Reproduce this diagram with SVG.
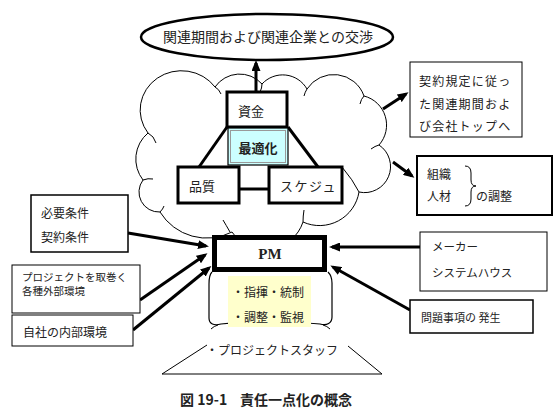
<svg xmlns="http://www.w3.org/2000/svg" width="560" height="414" viewBox="0 0 560 414">
<style>
text{font-family:"Noto Sans CJK JP","Noto Sans",sans-serif;fill:#222;}
.box{fill:#fff;stroke:#000;}
.arr{stroke:#000;stroke-width:3;fill:none;marker-end:url(#ah);}
.link{stroke:#000;stroke-width:3;fill:none;}
.thin{stroke:#000;stroke-width:1;fill:none;}
</style>
<defs>
<marker id="ah" markerWidth="11" markerHeight="9" refX="8" refY="4.5" orient="auto" markerUnits="userSpaceOnUse">
<path d="M0,0 L11,4.5 L0,9 z" fill="#000"/>
</marker>
</defs>
<rect width="560" height="414" fill="#fff"/>

<g id="negotiation">
<ellipse cx="267" cy="37" rx="126" ry="23" fill="#fff" stroke="#000" stroke-width="2.5"/>
<text x="268" y="42" font-size="14" text-anchor="middle">関連期間および関連企業との交渉</text>
</g>

<g id="cloud">
<path d="M160,212 A20 20 0 0 1 143,180 A34 34 0 0 1 148,133 A40 38 0 0 1 215,87 A30 30 0 0 1 262,84 A28 28 0 0 1 307,89 A32 32 0 0 1 364,96 A30 30 0 0 1 379,145 A26 26 0 0 1 359,192 A40 40 0 0 1 303,222 A40 40 0 0 1 232,232 A55 55 0 0 1 160,212 Z" fill="#fff" stroke="#000" stroke-width="1"/>
<path class="thin" d="M148,133 q6,3 8,10 M143,180 q5,-2 10,-1 M215,87 q4,2 6,7 M262,84 q0,4 -2,8 M307,89 q-2,3 -3,7 M364,96 q-3,3 -4,8 M379,145 q-4,1 -8,4 M359,192 q-6,-12 -17,-25 M303,222 q0,-6 1,-12 M160,212 q3,-3 4,-6 M223,220 q3,5 7,12"/>
</g>

<g id="connectors">
<line class="link" x1="227" y1="127" x2="199" y2="167"/>
<line class="link" x1="288" y1="127" x2="318" y2="167"/>
<line class="link" x1="239" y1="189" x2="269" y2="189"/>
<line class="arr" x1="256" y1="92" x2="256" y2="63"/>
<line class="arr" x1="383" y1="109" x2="406" y2="94"/>
<line class="arr" x1="393" y1="162" x2="412" y2="176"/>
<line class="arr" x1="128" y1="233" x2="206" y2="246"/>
<line class="arr" x1="140" y1="300" x2="205" y2="255"/>
<line class="arr" x1="133" y1="330" x2="209" y2="268"/>
<line class="arr" x1="420" y1="247" x2="332" y2="247"/>
<line class="arr" x1="410" y1="310" x2="333" y2="267"/>
</g>

<g id="shikin">
<rect class="box" x="227" y="92" width="60" height="35" stroke-width="3"/>
<text x="238" y="116" font-size="13">資金</text>
</g>

<g id="saitekika">
<rect x="228" y="128" width="60" height="37" fill="#ccffff" stroke="#000" stroke-width="1.2"/>
<rect x="230.5" y="130.5" width="55" height="32" fill="none" stroke="#999" stroke-width="1"/>
<text x="258" y="153" font-size="13" font-weight="bold" text-anchor="middle">最適化</text>
</g>

<g id="hinshitsu">
<rect class="box" x="178" y="167" width="61" height="36" stroke-width="3"/>
<text x="189" y="191" font-size="13">品質</text>
</g>

<g id="schedule">
<rect class="box" x="269" y="167" width="73" height="36" stroke-width="3"/>
<text x="280" y="191" font-size="13" letter-spacing="1.5">スケジュ</text>
</g>

<g id="staff">
<path d="M212,272 C209,275 209,279 209,284 L209,318 C209,324 214,326 221,324 Q271,319 320,324 C327,326 332,323 332,317 L332,283 C332,278 331,275 328,272" fill="#fff" stroke="#000" stroke-width="1.2"/>
<path class="thin" d="M211,329 q3,-3 7,-4 M330,329 q-3,-3 -7,-4"/>
<rect x="228" y="276" width="83" height="51" fill="#ffffcc"/>
<text x="232" y="297" font-size="12">・指揮・統制</text>
<text x="232" y="322" font-size="12">・調整・監視</text>
</g>

<g id="pm">
<rect class="box" x="214.5" y="237.5" width="110" height="32" stroke-width="5"/>
<text x="270" y="259" font-size="15" font-weight="bold" text-anchor="middle" style="font-family:'Liberation Serif',serif">PM</text>
</g>

<g id="project-staff">
<path class="thin" d="M207,345 L162,374 L382,374 L348,346" stroke-width="1.5"/>
<text x="206" y="355" font-size="12">・プロジェクトスタッフ</text>
</g>

<g id="requirements">
<rect class="box" x="31" y="195" width="97" height="57" stroke-width="1.5"/>
<text x="41" y="218" font-size="12">必要条件</text>
<text x="41" y="242" font-size="12">契約条件</text>
</g>

<g id="external-env">
<rect class="box" x="12" y="265" width="128" height="48" stroke-width="1"/>
<text x="22" y="281" font-size="10.5">プロジェクトを取巻く</text>
<text x="22" y="295" font-size="10.5">各種外部環境</text>
</g>

<g id="internal-env">
<rect class="box" x="12" y="315" width="121" height="31" stroke-width="1"/>
<text x="23" y="337" font-size="12">自社の内部環境</text>
</g>

<g id="report">
<rect class="box" x="410" y="62" width="112" height="75" stroke-width="1"/>
<text x="419" y="86" font-size="12" letter-spacing="1.2">契約規定に従っ</text>
<text x="419" y="109" font-size="12" letter-spacing="1.2">た関連期間およ</text>
<text x="419" y="131" font-size="12" letter-spacing="1.2">び会社トップへ</text>
</g>

<g id="organization">
<rect class="box" x="417" y="156" width="135" height="59" stroke-width="2"/>
<text x="427" y="179" font-size="12">組織</text>
<text x="427" y="201" font-size="12">人材</text>
<path class="thin" d="M465,166 Q471,166 471,173 L471,180 Q471,186 476,186 Q471,186 471,192 L471,199 Q471,206 465,206"/>
<text x="476" y="201" font-size="12">の調整</text>
</g>

<g id="maker">
<rect class="box" x="420" y="232" width="127" height="59" stroke-width="1"/>
<text x="432" y="251" font-size="11.5">メーカー</text>
<text x="432" y="277" font-size="11.5">システムハウス</text>
</g>

<g id="problem">
<rect class="box" x="410" y="300" width="123" height="33" stroke-width="1.5"/>
<text x="421" y="322" font-size="11">問題事項の 発生</text>
</g>

<g id="caption">
<text x="180" y="405" font-size="14" font-weight="bold">図 19-1</text>
<text x="240" y="405" font-size="14" font-weight="bold">責任一点化の概念</text>
</g>
</svg>
